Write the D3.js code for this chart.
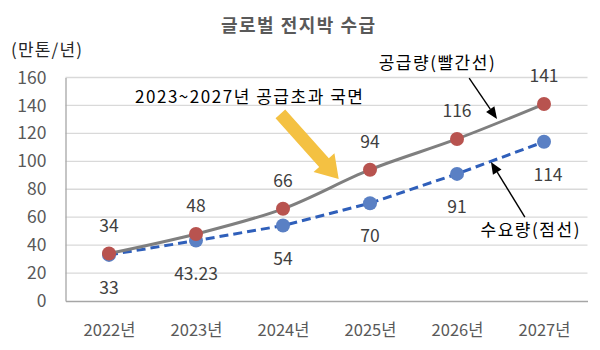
<!DOCTYPE html>
<html><head><meta charset="utf-8">
<script src="https://cdn.jsdelivr.net/npm/d3@7"></script>
<style>body{margin:0;background:#fff}svg{display:block}text{font-family:"Noto Sans CJK KR","Noto Sans",sans-serif}</style>
</head><body>
<svg id="c" width="600" height="350"></svg>
<script>
const categories = ["2022년","2023년","2024년","2025년","2026년","2027년"];
const supply = [34, 48, 66, 94, 116, 141];
const demand = [33, 43.23, 54, 70, 91, 114];
const supplyLabels = ["34","48","66","94","116","141"];
const demandLabels = ["33","43.23","54","70","91","114"];
const yTicks = [0,20,40,60,80,100,120,140,160];
const title = "글로벌 전지박 수급";
const unitLabel = "(만톤/년)";
const phaseLabel = "2023~2027년 공급초과 국면";
const supplyNote = "공급량(빨간선)";
const demandNote = "수요량(점선)";

const svg = d3.select("#c");
const m = {l:65.5, r:587.5, t:77.5, b:301};
const x = d3.scalePoint().domain(categories).range([m.l, m.r]).padding(0.5);
const xi = d3.scaleLinear().domain([0, categories.length-1]).range([x(categories[0]), x(categories[categories.length-1])]);
const y = d3.scaleLinear().domain([0,160]).range([m.b, m.t]);

// gridlines
svg.append("g").selectAll("line").data(yTicks.filter(d=>d>0)).join("line")
  .attr("x1", m.l).attr("x2", m.r).attr("y1", d=>y(d)).attr("y2", d=>y(d))
  .attr("stroke", "#d9d9d9").attr("stroke-width", 1.3);

// y axis
const ya = svg.append("g").attr("transform", `translate(${m.l},0)`).call(d3.axisLeft(y).tickValues(yTicks).tickSize(0).tickPadding(19));
ya.select(".domain").attr("stroke", "#a6a6a6").attr("stroke-width", 1.3);
ya.selectAll("text").attr("font-size", 17.5).attr("fill", "#595959");

// x axis
const xa = svg.append("g").attr("transform", `translate(0,${m.b})`).call(d3.axisBottom(x).tickSize(0).tickPadding(23));
xa.select(".domain").attr("stroke", "#a6a6a6").attr("stroke-width", 1.3);
xa.selectAll("text").attr("font-size", 16.5).attr("fill", "#595959");

// demand line (dashed)
svg.append("path").datum(demand)
  .attr("d", d3.line().x((d,i)=>x(categories[i])).y(d=>y(d)))
  .attr("fill","none").attr("stroke","#2f5fba").attr("stroke-width",3).attr("stroke-dasharray","9,5");
svg.append("g").selectAll("circle").data(demand).join("circle")
  .attr("cx",(d,i)=>x(categories[i])).attr("cy",d=>y(d)).attr("r",7).attr("fill","#5a80c4");

// supply line
svg.append("path").datum(supply)
  .attr("d", d3.line().x((d,i)=>x(categories[i])).y(d=>y(d)).curve(d3.curveCatmullRom.alpha(0.5)))
  .attr("fill","none").attr("stroke","#7f7f7f").attr("stroke-width",3);
svg.append("g").selectAll("circle").data(supply).join("circle")
  .attr("cx",(d,i)=>x(categories[i])).attr("cy",d=>y(d)).attr("r",7).attr("fill","#b8534f");

// data labels
svg.append("g").selectAll("text").data(supply).join("text")
  .attr("x",(d,i)=>x(categories[i])).attr("y",d=>y(d)-28).attr("dy","0.35em")
  .attr("text-anchor","middle").attr("font-size",17.5).attr("fill","#404040").text((d,i)=>supplyLabels[i]);
svg.append("g").selectAll("text").data(demand).join("text")
  .attr("x",(d,i)=>x(categories[i]) + (i===5?4:0)).attr("y",d=>y(d)+33).attr("dy","0.35em")
  .attr("text-anchor","middle").attr("font-size",17.5).attr("fill","#404040").text((d,i)=>demandLabels[i]);

// title and texts
svg.append("text").attr("x",298).attr("y",26).attr("dy","0.35em").attr("text-anchor","middle")
  .attr("font-size",18).attr("font-weight","bold").attr("fill","#595959")
  .attr("textLength",154).attr("lengthAdjust","spacing").text(title);
svg.append("text").attr("x",11).attr("y",50).attr("dy","0.35em")
  .attr("font-size",17).attr("fill","#262626").attr("textLength",71).attr("lengthAdjust","spacing").text(unitLabel);
svg.append("text").attr("x",135).attr("y",y(146)).attr("dy","0.35em")
  .attr("font-size",17).attr("fill","#000").attr("textLength",228).attr("lengthAdjust","spacing").text(phaseLabel);
svg.append("text").attr("x",xi(3.1)).attr("y",y(170.5)).attr("dy","0.35em")
  .attr("font-size",17).attr("fill","#000").attr("textLength",116).attr("lengthAdjust","spacing").text(supplyNote);
svg.append("text").attr("x",xi(4.27)).attr("y",y(51)).attr("dy","0.35em")
  .attr("font-size",17).attr("fill","#000").attr("textLength",99).attr("lengthAdjust","spacing").text(demandNote);

// black arrows
function blackArrow(x1,y1,x2,y2){
  const a = Math.atan2(y2-y1, x2-x1), L=12, W=5;
  const bx = x2 - L*Math.cos(a), by = y2 - L*Math.sin(a);
  svg.append("line").attr("x1",x1).attr("y1",y1).attr("x2",bx).attr("y2",by).attr("stroke","#000").attr("stroke-width",1.4);
  svg.append("path").attr("d",`M${x2},${y2}L${bx - W*Math.sin(a)},${by + W*Math.cos(a)}L${bx + W*Math.sin(a)},${by - W*Math.cos(a)}Z`).attr("fill","#000");
}
blackArrow(xi(4.14), y(159.6), xi(4.46), y(130.3));
blackArrow(xi(4.78), y(60.1), xi(4.39), y(99.5));

// yellow block arrow
(function(){
  const x1 = xi(1.97), y1 = y(133.9), x2 = xi(2.64), y2 = y(87.3);
  const a = Math.atan2(y2-y1, x2-x1), len = Math.hypot(x2-x1,y2-y1);
  const sw = 13, hw = 28, hl = 22;
  const pts = [[0,-sw/2],[len-hl,-sw/2],[len-hl,-hw/2],[len,0],[len-hl,hw/2],[len-hl,sw/2],[0,sw/2]];
  svg.append("path").attr("d","M"+pts.map(p=>p.join(",")).join("L")+"Z")
    .attr("transform",`translate(${x1},${y1}) rotate(${a*180/Math.PI})`).attr("fill","#f4c142");
})();
</script>
</body></html>
